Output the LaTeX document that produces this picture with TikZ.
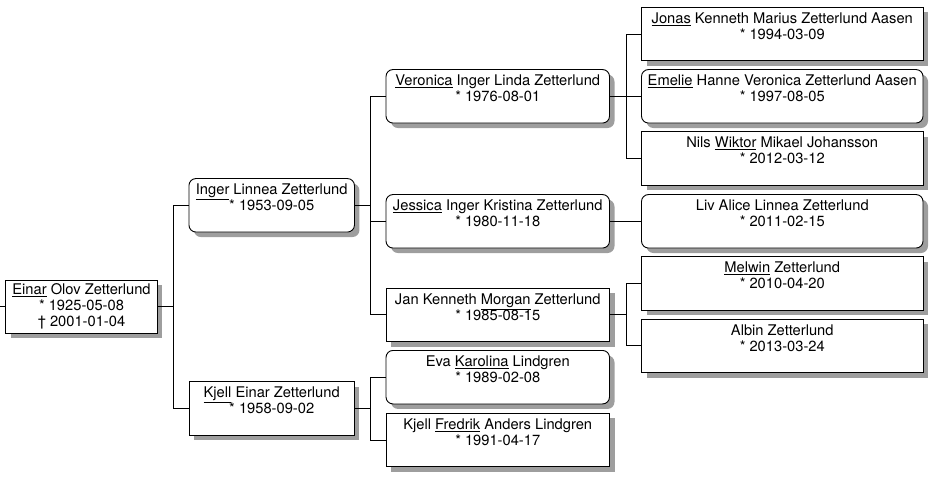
\documentclass[tikz,border=0pt]{standalone}
\usepackage{fontspec}
\setmainfont{TeX Gyre Heros}
\usetikzlibrary{shadows}

\begin{document}
\begin{tikzpicture}[
	x=1pt, y=-1pt,
	line width=0.9pt,
	person/.style={
		rectangle,
		draw=black,
		fill=white,
		align=center,
		inner sep=0pt,
		minimum height=53.5pt,
		font=\fontsize{14.7}{16}\selectfont,
		execute at begin node=\rule{0pt}{11pt},
		drop shadow={shadow xshift=5pt, shadow yshift=-5pt, fill=black!38, opacity=1},
	},
	her/.style={person, rounded corners=7pt},
	gena/.style={minimum width=151.5pt},
	genb/.style={minimum width=165.5pt},
	genc/.style={minimum width=223.5pt},
	gend/.style={minimum width=281.5pt},
]
\useasboundingbox (0,0) rectangle (931,478);

\coordinate (root) at (0,306.7);
\node[person,gena] (einar) at (81.5,306.7) {\underline{Einar} Olov Zetterlund\\{*} 1925-05-08\\† 2001-01-04};

\node[her,genb] (inger) at (271.7,205.3) {\underline{Inger} Linnea Zetterlund\\{*} 1953-09-05\\~};
\node[person,genb] (kjell) at (271.7,408.3) {\underline{Kjell} Einar Zetterlund\\{*} 1958-09-02\\~};

\node[her,genc] (veronica) at (497.75,96.3) {\underline{Veronica} Inger Linda Zetterlund\\{*} 1976-08-01\\~};
\node[her,genc] (jessica) at (497.75,221.3) {\underline{Jessica} Inger Kristina Zetterlund\\{*} 1980-11-18\\~};
\node[person,genc] (jan) at (497.75,314.8) {Jan Kenneth \underline{Morgan} Zetterlund\\{*} 1985-08-15\\~};
\node[her,genc] (eva) at (497.75,377.2) {Eva \underline{Karolina} Lindgren\\{*} 1989-02-08\\~};
\node[person,genc] (fredrik) at (497.75,440) {Kjell \underline{Fredrik} Anders Lindgren\\{*} 1991-04-17\\~};

\node[person,gend] (jonas) at (782.25,34) {\underline{Jonas} Kenneth Marius Zetterlund Aasen\\{*} 1994-03-09\\~};
\node[her,gend] (emelie) at (782.25,96.3) {\underline{Emelie} Hanne Veronica Zetterlund Aasen\\{*} 1997-08-05\\~};
\node[person,gend] (nils) at (782.25,158.6) {Nils \underline{Wiktor} Mikael Johansson\\{*} 2012-03-12\\~};
\node[her,gend] (liv) at (782.25,221.3) {Liv Alice Linnea Zetterlund\\{*} 2011-02-15\\~};
\node[person,gend] (melwin) at (782.25,283.5) {\underline{Melwin} Zetterlund\\{*} 2010-04-20\\~};
\node[person,gend] (albin) at (782.25,345.8) {Albin Zetterlund\\{*} 2013-03-24\\~};

\draw (root) -- (einar.west);
\draw (einar.east) -- ++(16,0) |- (inger.west);
\draw (einar.east) -- ++(16,0) |- (kjell.west);

\draw (inger.east) -- ++(16,0) |- (veronica.west);
\draw (inger.east) -- ++(16,0) |- (jessica.west);
\draw (inger.east) -- ++(16,0) |- (jan.west);
\draw (kjell.east) -- ++(16,0) |- (eva.west);
\draw (kjell.east) -- ++(16,0) |- (fredrik.west);

\draw (veronica.east) -- ++(16,0) |- (jonas.west);
\draw (veronica.east) -- ++(16,0) |- (emelie.west);
\draw (veronica.east) -- ++(16,0) |- (nils.west);
\draw (jessica.east) -- (liv.west);
\draw (jan.east) -- ++(16,0) |- (melwin.west);
\draw (jan.east) -- ++(16,0) |- (albin.west);

\end{tikzpicture}
\end{document}
